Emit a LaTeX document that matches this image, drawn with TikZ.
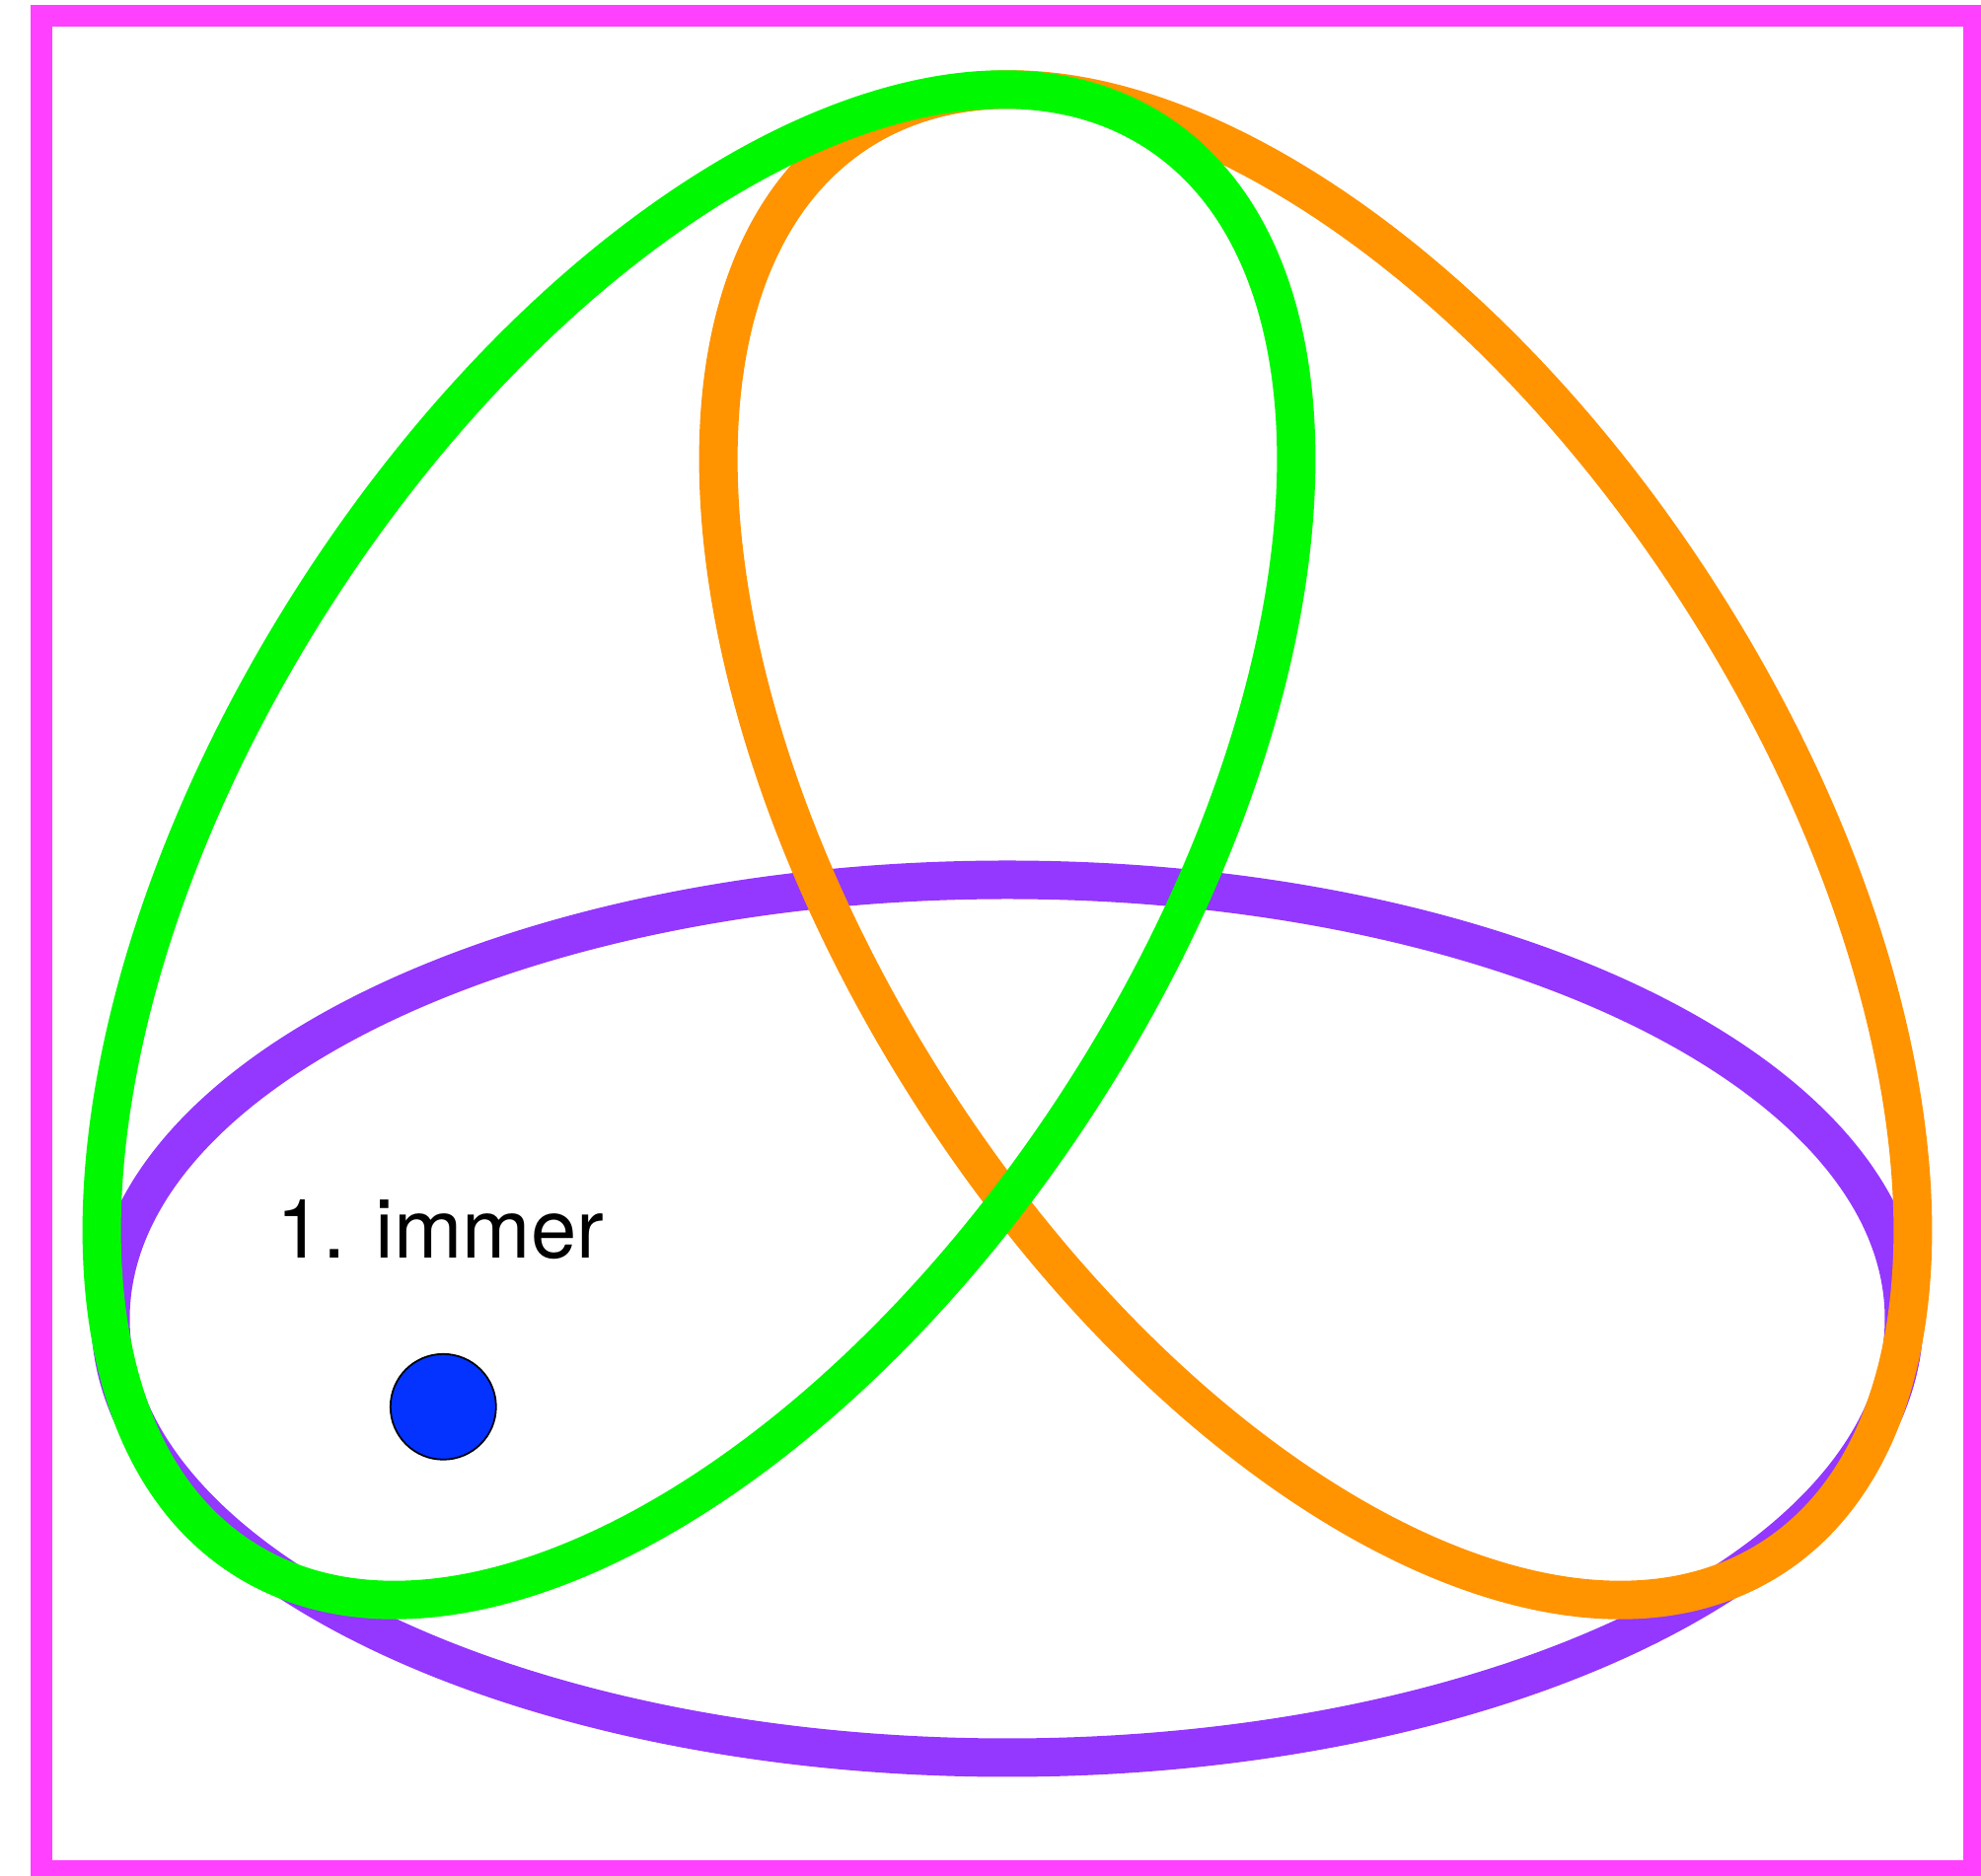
\documentclass[tikz,border=0pt]{standalone}
\usepackage{fontspec}
\setmainfont{TeX Gyre Heros}
\usepackage{tikz}
\definecolor{vennPurple}{RGB}{148,55,255}
\definecolor{vennOrange}{RGB}{255,147,0}
\definecolor{vennGreen}{RGB}{0,249,0}
\definecolor{vennMagenta}{RGB}{255,64,255}
\definecolor{vennBlue}{RGB}{4,51,255}

\begin{document}
\begin{tikzpicture}[ring/.style={line width=11.1pt},frame/.style={draw=vennMagenta,line width=6pt},dot/.style={circle,draw=black,fill=vennBlue,line width=0.5pt,minimum size=1.07cm,inner sep=0pt}]
  \def\ringrx{8.585}
  \def\ringry{4.643}
  \def\ringrot{57.45}
  \useasboundingbox (0,0) rectangle (20.08,19.02);
  \draw[frame] (0.42,0.05) rectangle (20.01,18.86);
  \draw[ring,vennPurple] (10.21,5.65) ellipse[x radius=9.09,y radius=4.45];
  \draw[ring,vennOrange] (13.335,10.455) ellipse[x radius=\ringrx,y radius=\ringry,rotate=-\ringrot];
  \draw[ring,vennGreen] (7.085,10.455) ellipse[x radius=\ringrx,y radius=\ringry,rotate=\ringrot];
  \node[anchor=base west,inner sep=0pt,font=\fontsize{23.7}{28}\selectfont] (label) at (2.80,6.263) {1. immer};
  \node[dot] (point) at (4.493,4.757) {};
\end{tikzpicture}
\end{document}
